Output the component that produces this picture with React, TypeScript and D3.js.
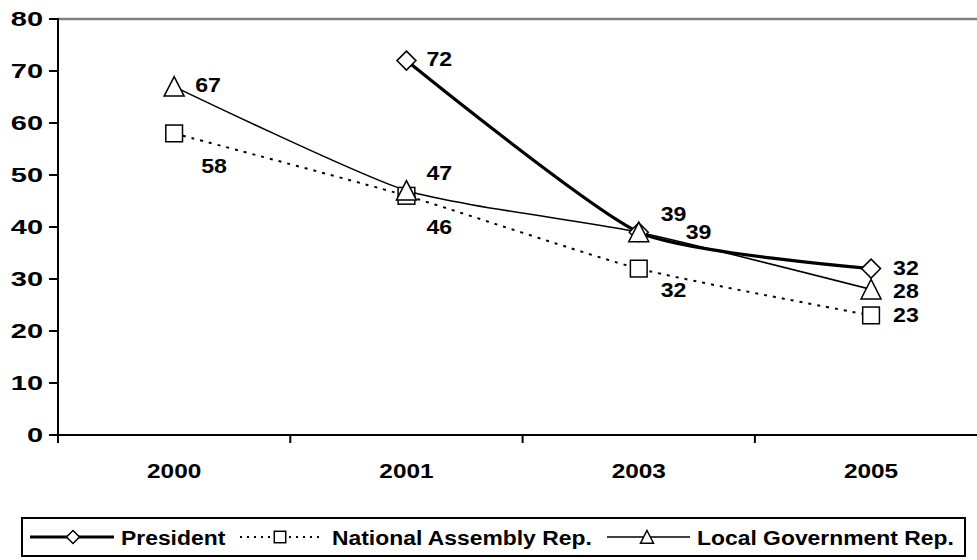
import React from "react";
import * as d3 from "d3";

const categories = ["2000", "2001", "2003", "2005"];
const yTicks = [0, 10, 20, 30, 40, 50, 60, 70, 80];
const presidentValues: (number | null)[] = [null, 72, 39, 32];
const assemblyValues: (number | null)[] = [58, 46, 32, 23];
const localValues: (number | null)[] = [67, 47, 39, 28];
const seriesNames = ["President", "National Assembly Rep.", "Local Government Rep."];

// label offsets (style): [dx of left edge, dy of text centre] relative to marker
const presidentLabelOffsets = [[0, 0], [20, -2], [47, -1], [22, -1.5]];
const assemblyLabelOffsets = [[27, 32], [20, 31], [22, 21], [22, -1]];
const localLabelOffsets = [[21, -2], [20, -18], [22, -19], [22, 1]];

const W = 977;
const H = 560;
const FONT = "'Liberation Sans', Arial, sans-serif";

type Marker = "diamond" | "square" | "triangle";

function MarkerShape({ kind, x, y, s }: { kind: Marker; x: number; y: number; s: number }) {
  const st = { fill: "#fff", stroke: "#000", strokeWidth: 1.5 };
  if (kind === "diamond") {
    return <path d={`M${x},${y - s}L${x + s},${y}L${x},${y + s}L${x - s},${y}Z`} {...st} />;
  }
  if (kind === "square") {
    const h = s * 0.88;
    return <rect x={x - h} y={y - h} width={2 * h} height={2 * h} {...st} />;
  }
  return <path d={`M${x},${y - s}L${x + s},${y + s * 0.95}L${x - s},${y + s * 0.95}Z`} {...st} />;
}

export default function App() {
  const x = d3.scaleBand<string>().domain(categories).range([58, 58 + 4 * 232.3]).padding(0);
  const y = d3.scaleLinear().domain([0, 80]).range([435, 19]);
  const cx = (c: string) => (x(c) as number) + x.bandwidth() / 2;

  const series = [
    { name: seriesNames[0], values: presidentValues, marker: "diamond" as Marker, width: 3.2, dash: "", offs: presidentLabelOffsets, ms: 9.5 },
    { name: seriesNames[1], values: assemblyValues, marker: "square" as Marker, width: 2, dash: "3,6", offs: assemblyLabelOffsets, ms: 9.5 },
    { name: seriesNames[2], values: localValues, marker: "triangle" as Marker, width: 1.6, dash: "", offs: localLabelOffsets, ms: 10 },
  ];

  const line = d3
    .line<[number, number]>()
    .x((d) => d[0])
    .y((d) => d[1])
    .curve(d3.curveCardinal.tension(0.4));

  const boundaries = d3.range(categories.length + 1).map((i) => 58 + i * x.bandwidth());

  const legendItems = [
    { lx1: 30, lx2: 114, mx: 73, tx: 121, s: series[0] },
    { lx1: 240, lx2: 320, mx: 280, tx: 332, s: series[1] },
    { lx1: 607, lx2: 690, mx: 647, tx: 697, s: series[2] },
  ];
  const legendY = 537;

  return (
    <svg width={W} height={H} style={{ position: "absolute", left: 0, top: 0, background: "#fff" }} fontFamily={FONT}>
      {/* plot area top border */}
      <line x1={58} x2={W} y1={19} y2={19} stroke="#808080" strokeWidth={2.5} />
      {/* y axis */}
      <line x1={58} x2={58} y1={18} y2={436} stroke="#000" strokeWidth={2} />
      {yTicks.map((t) => (
        <g key={t}>
          <line x1={49} x2={58} y1={y(t)} y2={y(t)} stroke="#000" strokeWidth={2} />
          <text
            transform={`translate(43,${y(t)}) scale(1.45,1)`}
            textAnchor="end"
            dy="0.36em"
            fontSize={20}
            fontWeight="bold"
          >
            {t}
          </text>
        </g>
      ))}
      {/* x axis */}
      <line x1={57} x2={W} y1={435} y2={435} stroke="#000" strokeWidth={2} />
      {boundaries.map((b, i) => (
        <line key={i} x1={b} x2={b} y1={435} y2={443} stroke="#000" strokeWidth={2} />
      ))}
      {categories.map((c) => (
        <text
          key={c}
          transform={`translate(${cx(c)},478) scale(1.22,1)`}
          textAnchor="middle"
          fontSize={20}
          fontWeight="bold"
        >
          {c}
        </text>
      ))}
      {/* lines */}
      {series.map((s) => {
        const pts = categories
          .map((c, i) => [c, s.values[i]] as [string, number | null])
          .filter((d) => d[1] !== null)
          .map((d) => [cx(d[0]), y(d[1] as number)] as [number, number]);
        return (
          <path
            key={s.name}
            d={line(pts) || ""}
            fill="none"
            stroke="#000"
            strokeWidth={s.width}
            strokeDasharray={s.dash || undefined}
            strokeLinejoin="round"
          />
        );
      })}
      {/* markers */}
      {series.map((s) =>
        categories.map((c, i) =>
          s.values[i] === null ? null : (
            <MarkerShape key={s.name + c} kind={s.marker} x={cx(c)} y={y(s.values[i] as number)} s={s.ms} />
          )
        )
      )}
      {/* data labels */}
      {series.map((s) =>
        categories.map((c, i) =>
          s.values[i] === null ? null : (
            <text
              key={"l" + s.name + c}
              transform={`translate(${cx(c) + s.offs[i][0]},${y(s.values[i] as number) + s.offs[i][1]}) scale(1.1,1)`}
              dy="0.36em"
              fontSize={21}
              fontWeight="bold"
            >
              {s.values[i]}
            </text>
          )
        )
      )}
      {/* legend */}
      <rect x={22} y={518} width={943} height={38} fill="#fff" stroke="#000" strokeWidth={2} />
      {legendItems.map((it) => (
        <g key={it.s.name}>
          <line
            x1={it.lx1}
            x2={it.lx2}
            y1={legendY}
            y2={legendY}
            stroke="#000"
            strokeWidth={it.s.width}
            strokeDasharray={it.s.dash ? "2,5" : undefined}
          />
          <MarkerShape kind={it.s.marker} x={it.mx} y={legendY} s={6.5} />
          <text
            transform={`translate(${it.tx},${legendY}) scale(1.09,1)`}
            dy="0.36em"
            fontSize={21}
            fontWeight="bold"
          >
            {it.s.name}
          </text>
        </g>
      ))}
    </svg>
  );
}
